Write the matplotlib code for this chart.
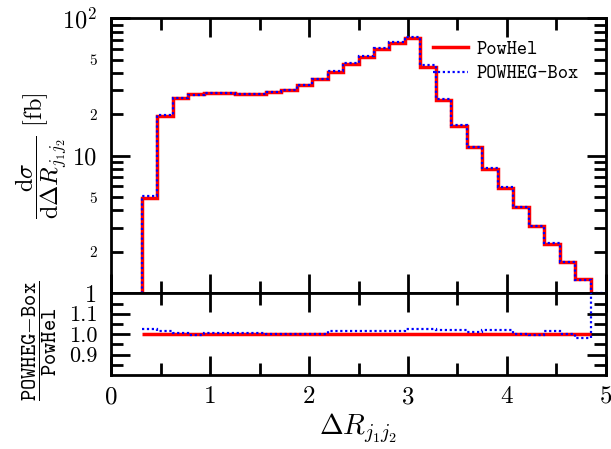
import numpy as np
import matplotlib.pyplot as plt
from matplotlib.lines import Line2D
from matplotlib.ticker import FixedLocator, FixedFormatter, FuncFormatter

plt.rcParams['font.family'] = 'serif'
plt.rcParams['font.serif'] = ['cmr10']
plt.rcParams['mathtext.fontset'] = 'cm'
plt.rcParams['axes.unicode_minus'] = False

# bin edges in Delta R (j1 j2)
bin_edges = [0.3125, 0.46875, 0.625, 0.78125, 0.9375, 1.09375, 1.25, 1.40625,
             1.5625, 1.71875, 1.875, 2.03125, 2.1875, 2.34375, 2.5, 2.65625,
             2.8125, 2.96875, 3.125, 3.28125, 3.4375, 3.59375, 3.75, 3.90625,
             4.0625, 4.21875, 4.375, 4.53125, 4.6875, 4.84375, 5.0]

# dsigma/dDeltaR [fb]
powhel = [4.95, 19.5, 26.2, 28.0, 28.7, 28.7, 28.0, 28.0, 29.1, 30.2,
          32.7, 36.0, 40.5, 46.3, 52.3, 59.5, 66.1, 71.5, 44.5, 25.4,
          16.5, 11.5, 8.04, 5.80, 4.21, 3.11, 2.30, 1.69, 1.27, 0.0]
powheg_box = [5.08, 19.81, 26.33, 27.89, 28.84, 28.84, 28.14, 28.14, 29.19, 30.29,
              32.80, 36.11, 41.15, 47.04, 53.14, 60.45, 67.16, 73.36, 45.66, 25.93,
              16.85, 11.62, 8.21, 5.92, 4.22, 3.10, 2.34, 1.695, 1.248, 1.0]

edges = np.array(bin_edges)
h_pwhl = np.array(powhel)
h_pwhg = np.array(powheg_box)

red = '#ff0000'
blue = '#0000ff'
dots = (0, (1, 1.2))

fig = plt.figure(figsize=(6.11, 4.49), dpi=100)
ax = fig.add_axes([0.1817, 0.3468, 0.8101, 0.6125])
rax = fig.add_axes([0.1817, 0.1648, 0.8101, 0.182])

# main panel
ax.stairs(np.clip(h_pwhl, 1e-3, None), edges, baseline=1e-3, color=red, lw=2.5, zorder=2)
ax.stairs(np.clip(h_pwhg, 1e-3, None), edges, baseline=1e-3, color=blue, lw=1.6,
          linestyle=dots, zorder=3)
ax.set_yscale('log')
ax.set_xlim(0, 5)
ax.set_ylim(1, 100)

# ratio panel
ok = h_pwhl > 0
r_red = np.where(ok, 1.0, np.nan)
r_blue = np.where(ok, h_pwhg / np.where(ok, h_pwhl, 1), 10.0)
rax.stairs(r_red[:-1], edges[:-1], baseline=None, color=red, lw=2.5, zorder=2)
rax.stairs(r_blue, edges, baseline=None, color=blue, lw=1.6, linestyle=dots, zorder=3)
rax.set_xlim(0, 5)
rax.set_ylim(0.8, 1.2)

for a in (ax, rax):
    for s in a.spines.values():
        s.set_linewidth(2.0)
    a.tick_params(which='both', direction='in', top=True, right=True, width=2.0)
    a.tick_params(which='major', length=14)
    a.tick_params(which='minor', length=8.5)
    a.xaxis.set_major_locator(FixedLocator([0, 1, 2, 3, 4, 5]))
    a.xaxis.set_minor_locator(FixedLocator([0.5, 1.5, 2.5, 3.5, 4.5]))

ax.yaxis.set_major_locator(FixedLocator([1, 10, 100]))
ax.yaxis.set_major_formatter(FixedFormatter(['1', '10', '$10^2$']))
ax.yaxis.set_minor_locator(FixedLocator([2, 3, 4, 5, 6, 7, 8, 9,
                                         20, 30, 40, 50, 60, 70, 80, 90]))
small = {2: '2', 5: '5', 20: '2', 50: '5'}
ax.yaxis.set_minor_formatter(FuncFormatter(lambda v, p: small.get(int(round(v)), '')))
ax.tick_params(axis='y', which='major', labelsize=17.5, pad=10)
ax.tick_params(axis='y', which='minor', labelsize=11, pad=10)
ax.tick_params(axis='x', labelbottom=False)

rax.yaxis.set_major_locator(FixedLocator([0.9, 1.0, 1.1]))
rax.yaxis.set_major_formatter(FixedFormatter(['0.9', '1.0', '1.1']))
rax.yaxis.set_minor_locator(FixedLocator([0.85, 0.95, 1.05, 1.15]))
rax.xaxis.set_major_formatter(FixedFormatter(['0', '1', '2', '3', '4', '5']))
rax.tick_params(axis='y', labelsize=16, pad=10)
rax.tick_params(axis='x', labelsize=18, pad=8)

# legend
handles = [Line2D([], [], color=red, lw=2.5),
           Line2D([], [], color=blue, lw=1.6, linestyle=dots)]
ax.legend(handles, ['PowHel', 'POWHEG-Box'], loc='upper left',
          bbox_to_anchor=(0.65, 0.92), frameon=False,
          prop={'family': 'cmtt10', 'size': 14}, handlelength=1.8,
          handletextpad=0.45, labelspacing=0.3, borderpad=0, borderaxespad=0)

# axis labels
fig.text(42 / 611, 1 - 155.7 / 449,
         r'$\dfrac{\mathrm{d}\sigma}{\mathrm{d}\Delta R_{j_1 j_2}}$ [fb]',
         rotation=90, ha='center', va='center', fontsize=17.5)
fig.text(40 / 611, 1 - 341 / 449,
         r'$\dfrac{\mathtt{POWHEG{-}Box}}{\mathtt{PowHel}}$',
         rotation=90, ha='center', va='center', fontsize=15.5)
fig.text(358 / 611, 1 - 428 / 449, r'$\Delta R_{j_1 j_2}$',
         ha='center', va='center', fontsize=20.5)

fig.savefig('out.png', dpi=100)
